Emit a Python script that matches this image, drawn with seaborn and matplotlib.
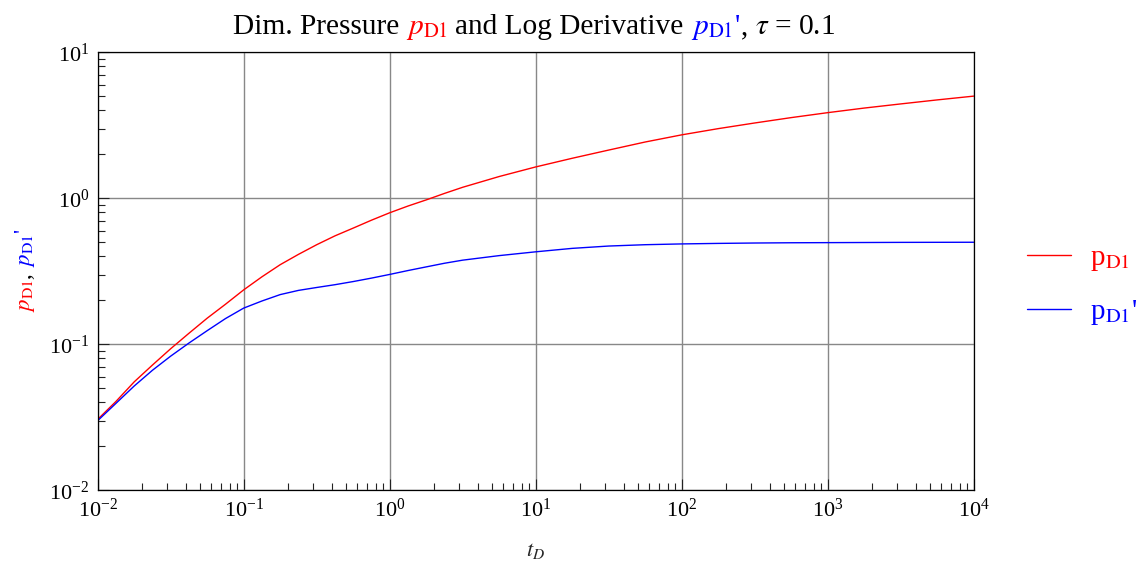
import numpy as np
import pandas as pd
import matplotlib
matplotlib.use("Agg")
import matplotlib.pyplot as plt
import seaborn as sns
from matplotlib.ticker import (FixedLocator, LogLocator, NullFormatter,
                               LogFormatterSciNotation)

# dimensionless time (as log10 exponents) and the two response curves
log_t = [-2.0, -1.875, -1.75, -1.625, -1.5, -1.375, -1.25, -1.125, -1.0,
         -0.875, -0.75, -0.625, -0.5, -0.375, -0.25, -0.125, 0.0,
         0.125, 0.25, 0.375, 0.5, 0.75, 1.0, 1.25, 1.5, 1.75, 2.0,
         2.25, 2.5, 2.75, 3.0, 3.25, 3.5, 3.75, 4.0]
p_d1 = [0.0306, 0.0406, 0.0553, 0.0721, 0.0933, 0.119, 0.151, 0.188, 0.236,
        0.290, 0.351, 0.413, 0.481, 0.553, 0.625, 0.708, 0.796,
        0.885, 0.975, 1.08, 1.19, 1.41, 1.64, 1.88, 2.14, 2.43, 2.72,
        3.00, 3.28, 3.57, 3.86, 4.15, 4.43, 4.72, 5.01]
p_d1_deriv = [0.0300, 0.0394, 0.0518, 0.0664, 0.0830, 0.102, 0.124, 0.150, 0.177,
              0.198, 0.219, 0.234, 0.245, 0.256, 0.269, 0.284, 0.301,
              0.320, 0.339, 0.359, 0.377, 0.405, 0.430, 0.454, 0.471, 0.481, 0.487,
              0.491, 0.494, 0.496, 0.497, 0.498, 0.499, 0.4995, 0.500]

x_decades = [1e-2, 1e-1, 1e0, 1e1, 1e2, 1e3, 1e4]
y_decades = [1e-2, 1e-1, 1e0, 1e1]

lab_p = r"p$_{\mathrm{D1}}$"
lab_d = r"p$_{\mathrm{D1}}$'"

t_d = 10.0 ** np.array(log_t)
n = len(t_d)
df = pd.DataFrame({
    "t": np.concatenate([t_d, t_d]),
    "value": p_d1 + p_d1_deriv,
    "series": [lab_p] * n + [lab_d] * n,
})

sns.set_theme(style="white")
plt.rcParams.update({
    "font.family": ["Liberation Serif", "DejaVu Serif"],
    "mathtext.fontset": "stix",
    "axes.edgecolor": "black",
    "axes.linewidth": 0.9,
    "xtick.color": "black",
    "ytick.color": "black",
    "text.color": "black",
})

W, H = 1147, 563
fig = plt.figure(figsize=(W / 100, H / 100), dpi=100)
ax = fig.add_axes([97.7 / W, 1 - 490.3 / H, (973.7 - 97.7) / W, (490.3 - 52.3) / H])

sns.lineplot(data=df, x="t", y="value", hue="series",
             palette={lab_p: "#ff0000", lab_d: "#0000ff"},
             estimator=None, linewidth=1.0, ax=ax)

ax.set_xscale("log")
ax.set_yscale("log")
ax.set_xlim(x_decades[0], x_decades[-1])
ax.set_ylim(y_decades[0], y_decades[-1])

for axis, decades in ((ax.xaxis, x_decades), (ax.yaxis, y_decades)):
    axis.set_major_locator(FixedLocator(decades))
    axis.set_major_formatter(LogFormatterSciNotation())
    minor = LogLocator(base=10, subs=np.arange(2, 10), numticks=100)
    minor_vals = [v for v in minor.tick_values(decades[0], decades[-1])
                  if decades[0] < v < decades[-1]]
    axis.set_minor_locator(FixedLocator(minor_vals))
    axis.set_minor_formatter(NullFormatter())

ax.tick_params(which="both", direction="in", bottom=True, left=True, top=False,
               right=False, labelsize=16, width=0.8, pad=6, color="#222222")
ax.tick_params(which="major", length=8)
ax.tick_params(which="minor", length=5)
ax.grid(True, which="major", color="#888888", linewidth=1.0)
for s in ax.spines.values():
    s.set_visible(True)
    s.set_color("black")

ax.set_xlabel(r"$t_D$", fontsize=16, labelpad=14)
ax.set_ylabel("")

leg = ax.legend(loc="center left", bbox_to_anchor=(1027 / W, 1 - 286 / H),
                bbox_transform=fig.transFigure, frameon=False, fontsize=21,
                handlelength=1.5, handletextpad=0.65, labelspacing=0.85,
                borderpad=0, borderaxespad=0, labelcolor="linecolor")
for line in leg.get_lines():
    line.set_linewidth(1.0)

# multi-coloured title and y label, laid out piece by piece
fig.canvas.draw()
renderer = fig.canvas.get_renderer()


def text_width(s, size):
    t = fig.text(0.5, 0.5, s, fontsize=size)
    w = t.get_window_extent(renderer).width
    t.remove()
    return w


def colored_row(pieces, base, size, center, vertical=False):
    sp = text_width("a a", size) - text_width("aa", size)
    widths = [text_width(s, size) for s, _, _ in pieces]
    total = sum(widths) + sp * sum(g for _, _, g in pieces)
    pos = center - total / 2
    for (s, c, gap), w in zip(pieces, widths):
        if vertical:
            fig.text(base / W, pos / H, s, color=c, fontsize=size, rotation=90,
                     rotation_mode="anchor", ha="left", va="baseline")
        else:
            fig.text(pos / W, base / H, s, color=c, fontsize=size,
                     ha="left", va="baseline")
        pos += w + gap * sp


title_pieces = [
    ("Dim. Pressure", "black", 1),
    (r"$p_{\mathrm{D1}}$", "#ff0000", 1),
    ("and Log Derivative", "black", 1),
    (r"$p_{\mathrm{D1}}$'", "#0000ff", 0),
    (",", "black", 1),
    (r"$\tau$ = 0.1", "black", 0),
]
colored_row(title_pieces, H - 34, 21.2, center=534)

ylabel_pieces = [
    (r"$p_{\mathrm{D1}}$", "#ff0000", 0),
    (",", "black", 1),
    (r"$p_{\mathrm{D1}}$'", "#0000ff", 0),
]
colored_row(ylabel_pieces, 30, 16.5, center=H - 270, vertical=True)

fig.savefig("out.png", dpi=100)
